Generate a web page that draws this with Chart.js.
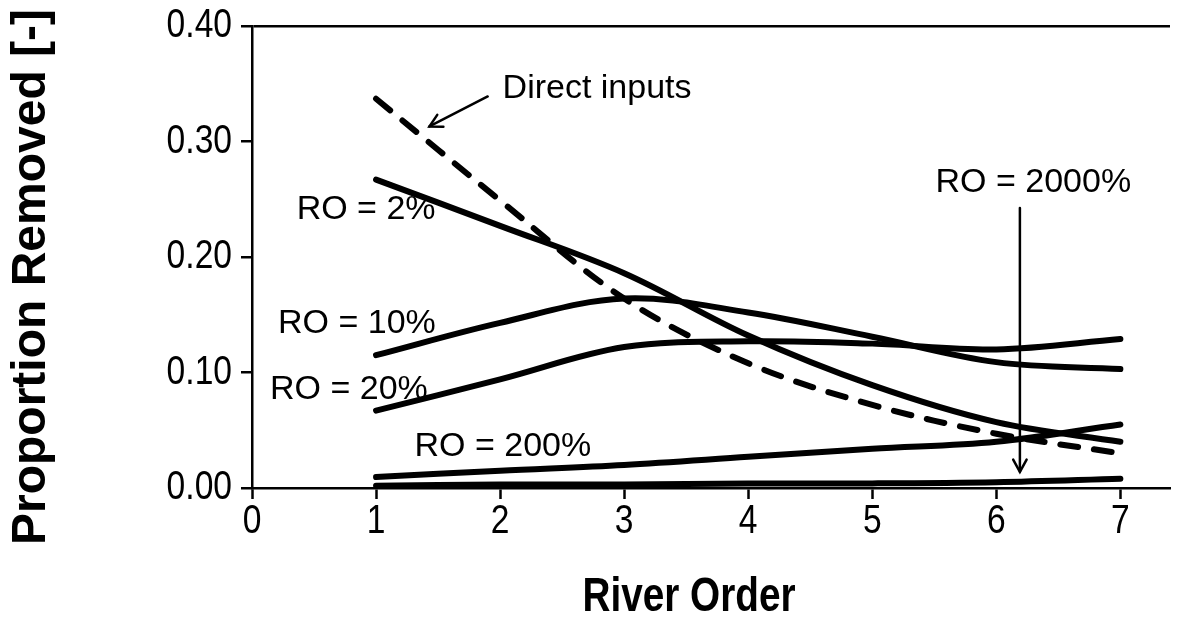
<!DOCTYPE html>
<html>
<head>
<meta charset="utf-8">
<script src="https://cdn.jsdelivr.net/npm/chart.js@4.4.1/dist/chart.umd.min.js"></script>
<style>
  html, body { margin: 0; padding: 0; background: #ffffff; }
  #wrap { width: 1180px; height: 627px; position: relative; }
</style>
</head>
<body>
<div id="wrap"><canvas id="c" width="1180" height="627"></canvas></div>
<script>
// ---------- data ----------
const riverOrder   = [1, 2, 3, 4, 5, 6, 7];
const directInputs = [0.337, 0.249, 0.164, 0.108, 0.072, 0.047, 0.030];
const ro2          = [0.267, 0.227, 0.186, 0.132, 0.089, 0.057, 0.040];
const ro10         = [0.115, 0.143, 0.164, 0.152, 0.131, 0.109, 0.103];
const ro20         = [0.067, 0.094, 0.122, 0.127, 0.125, 0.120, 0.129];
const ro200        = [0.0095, 0.015, 0.020, 0.027, 0.034, 0.040, 0.055];
const ro2000       = [0.002, 0.003, 0.003, 0.004, 0.004, 0.005, 0.008];

const xTickValues = [0, 1, 2, 3, 4, 5, 6, 7];
const yTickValues = [0.00, 0.10, 0.20, 0.30, 0.40];

const xTitle = 'River Order';
const yTitle = 'Proportion Removed [-]';

// annotation labels (position in data units)
const labelTexts = ['Direct inputs', 'RO = 2%', 'RO = 10%', 'RO = 20%', 'RO = 200%', 'RO = 2000%'];
const labelX     = [2.02, 0.36, 0.21, 0.145, 1.31, 5.51];
const labelY     = [0.346, 0.241, 0.142, 0.085, 0.0355, 0.264];

// arrows: from (x1,y1) to (x2,y2) in data units
const arrowFromX = [1.90, 6.19];
const arrowFromY = [0.339, 0.2425];
const arrowToX   = [1.43, 6.19];
const arrowToY   = [0.313, 0.014];

// ---------- fonts ----------
const FONT = '"Liberation Sans", Arial, Helvetica, sans-serif';
const TICK_SIZE = 40, TICK_SX = 0.84;      // condensed axis numbers
const XTITLE_SIZE = 49, XTITLE_SX = 0.79;  // condensed x title

// ---------- chart ----------
const toPts = arr => riverOrder.map((x, i) => ({ x: x, y: arr[i] }));

function lineDs(label, arr, dashed) {
  return {
    label: label,
    data: toPts(arr),
    borderColor: '#000000',
    backgroundColor: '#000000',
    borderWidth: 6,
    borderCapStyle: 'round',
    borderJoinStyle: 'round',
    borderDash: dashed ? [18, 16] : [],
    pointRadius: 0,
    tension: 0.35,
    fill: false
  };
}

function condensedText(ctx, text, x, y, sx, align) {
  ctx.save();
  ctx.translate(x, y);
  ctx.scale(sx, 1);
  ctx.textAlign = align;
  ctx.fillText(text, 0, 0);
  ctx.restore();
}

const annotationPlugin = {
  id: 'annotations',
  afterDatasetsDraw(chart) {
    const ctx = chart.ctx;
    const xs = chart.scales.x, ys = chart.scales.y;
    ctx.save();
    ctx.fillStyle = '#000';
    ctx.font = '34px ' + FONT;
    ctx.textAlign = 'left';
    ctx.textBaseline = 'middle';
    labelTexts.forEach((t, i) => {
      ctx.fillText(t, xs.getPixelForValue(labelX[i]), ys.getPixelForValue(labelY[i]));
    });
    ctx.strokeStyle = '#000';
    ctx.lineWidth = 2.5;
    ctx.lineCap = 'round';
    arrowFromX.forEach((_, i) => {
      const x1 = xs.getPixelForValue(arrowFromX[i]);
      const y1 = ys.getPixelForValue(arrowFromY[i]);
      const x2 = xs.getPixelForValue(arrowToX[i]);
      const y2 = ys.getPixelForValue(arrowToY[i]);
      ctx.beginPath();
      ctx.moveTo(x1, y1);
      ctx.lineTo(x2, y2);
      ctx.stroke();
      const ang = Math.atan2(y2 - y1, x2 - x1);
      const len = 14, spread = 0.5;
      ctx.beginPath();
      ctx.moveTo(x2 - len * Math.cos(ang - spread), y2 - len * Math.sin(ang - spread));
      ctx.lineTo(x2, y2);
      ctx.lineTo(x2 - len * Math.cos(ang + spread), y2 - len * Math.sin(ang + spread));
      ctx.stroke();
    });
    ctx.restore();
  },
  afterDraw(chart) {
    const ctx = chart.ctx;
    const ys = chart.scales.y, xs = chart.scales.x;
    ctx.save();
    ctx.fillStyle = '#000';
    ctx.textBaseline = 'middle';

    // tick labels, taken from the library's scales
    ctx.font = TICK_SIZE + 'px ' + FONT;
    ys.ticks.forEach(t => {
      condensedText(ctx, Number(t.value).toFixed(2), 232, ys.getPixelForValue(t.value), TICK_SX, 'right');
    });
    xs.ticks.forEach(t => {
      condensedText(ctx, String(t.value), xs.getPixelForValue(t.value), 522, TICK_SX, 'center');
    });

    // y axis title (rotated)
    ctx.font = 'bold 48px ' + FONT;
    ctx.textAlign = 'center';
    ctx.save();
    ctx.translate(32, (ys.top + ys.bottom) / 2 + 20);
    ctx.rotate(-Math.PI / 2);
    ctx.fillText(yTitle, 0, 0);
    ctx.restore();

    // x axis title
    ctx.font = 'bold ' + XTITLE_SIZE + 'px ' + FONT;
    condensedText(ctx, xTitle, (xs.left + xs.right) / 2 - 22, 597, XTITLE_SX, 'center');
    ctx.restore();
  }
};

new Chart(document.getElementById('c'), {
  type: 'line',
  data: {
    datasets: [
      lineDs('Direct inputs', directInputs, true),
      lineDs('RO = 2%', ro2, false),
      lineDs('RO = 10%', ro10, false),
      lineDs('RO = 20%', ro20, false),
      lineDs('RO = 200%', ro200, false),
      lineDs('RO = 2000%', ro2000, false)
    ]
  },
  options: {
    responsive: false,
    animation: false,
    devicePixelRatio: 1,
    layout: { padding: { top: 26, right: 10, left: 0, bottom: 0 } },
    plugins: {
      legend: { display: false },
      tooltip: { enabled: false }
    },
    scales: {
      x: {
        type: 'linear',
        min: 0,
        max: 7.4,
        afterFit: s => { s.height = 139; },
        afterBuildTicks: s => { s.ticks = xTickValues.map(v => ({ value: v })); },
        ticks: { display: false },
        grid: {
          drawOnChartArea: false,
          drawTicks: true,
          tickLength: 11,
          tickColor: '#000',
          tickWidth: 2.5
        },
        border: { display: true, color: '#000', width: 2.5 },
        title: { display: false }
      },
      y: {
        min: 0,
        max: 0.4,
        afterFit: s => { s.width = 252; },
        afterBuildTicks: s => { s.ticks = yTickValues.map(v => ({ value: v })); },
        ticks: { display: false },
        grid: {
          color: c => (c.tick && Math.abs(c.tick.value - 0.4) < 1e-9) ? '#000' : 'rgba(0,0,0,0)',
          lineWidth: 2.5,
          drawTicks: true,
          tickLength: 11,
          tickColor: '#000',
          tickWidth: 2.5
        },
        border: { display: true, color: '#000', width: 2.5 }
      }
    }
  },
  plugins: [annotationPlugin]
});
</script>
</body>
</html>
